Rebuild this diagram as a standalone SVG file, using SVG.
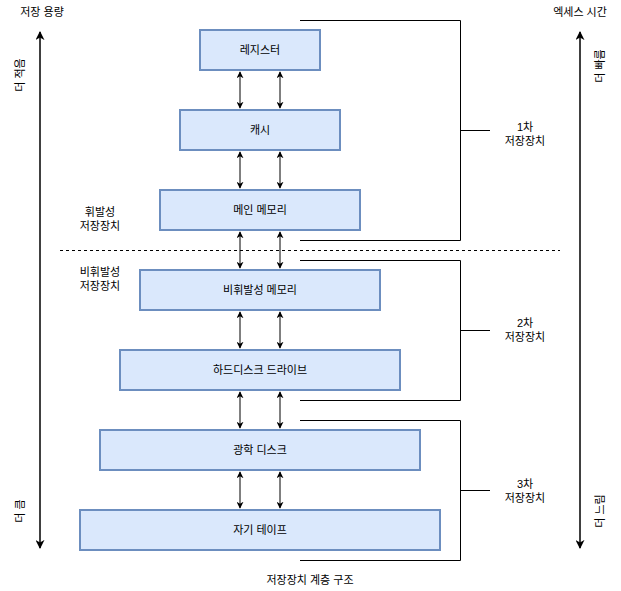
<svg xmlns="http://www.w3.org/2000/svg" width="621" height="591" viewBox="0 0 621 591">
  <style>
    .box { fill: #dae8fc; stroke: #6c8ebf; stroke-width: 2; }
    .lbl { font-family: "Liberation Sans", "Noto Sans CJK KR", sans-serif; font-size: 11px; fill: #000; text-anchor: middle; }
    .ln { stroke: #000; stroke-width: 1; fill: none; }
    .ax { stroke: #000; stroke-width: 1.5; fill: none; }
  </style>
  <defs>
    <marker id="ah" viewBox="0 0 10 10" refX="9" refY="5" markerWidth="7" markerHeight="7" orient="auto-start-reverse" markerUnits="userSpaceOnUse">
      <path d="M0,0 L10,5 L0,10 L3,5 Z" fill="#000"/>
    </marker>
    <marker id="ahb" viewBox="0 0 10 10" refX="9" refY="5" markerWidth="9" markerHeight="9" orient="auto-start-reverse" markerUnits="userSpaceOnUse">
      <path d="M0,0 L10,5 L0,10 L3,5 Z" fill="#000"/>
    </marker>
  </defs>

  <!-- storage levels -->
  <g id="register"><rect class="box" x="200" y="30" width="120" height="40"/><text class="lbl" x="260" y="54">레지스터</text></g>
  <g id="cache"><rect class="box" x="180" y="110" width="160" height="40"/><text class="lbl" x="260" y="134">캐시</text></g>
  <g id="main-memory"><rect class="box" x="160" y="190" width="200" height="40"/><text class="lbl" x="260" y="214">메인 메모리</text></g>
  <g id="nv-memory"><rect class="box" x="140" y="270" width="240" height="40"/><text class="lbl" x="260" y="294">비휘발성 메모리</text></g>
  <g id="hdd"><rect class="box" x="120" y="350" width="280" height="40"/><text class="lbl" x="260" y="374">하드디스크 드라이브</text></g>
  <g id="optical"><rect class="box" x="100" y="430" width="320" height="40"/><text class="lbl" x="260" y="454">광학 디스크</text></g>
  <g id="tape"><rect class="box" x="80" y="510" width="360" height="40"/><text class="lbl" x="260" y="534">자기 테이프</text></g>

  <!-- connectors -->
  <g id="connectors">
    <path class="ln" d="M240,72 V108" marker-start="url(#ah)" marker-end="url(#ah)"/>
    <path class="ln" d="M280,72 V108" marker-start="url(#ah)" marker-end="url(#ah)"/>
    <path class="ln" d="M240,152 V188" marker-start="url(#ah)" marker-end="url(#ah)"/>
    <path class="ln" d="M280,152 V188" marker-start="url(#ah)" marker-end="url(#ah)"/>
    <path class="ln" d="M240,232 V268" marker-start="url(#ah)" marker-end="url(#ah)"/>
    <path class="ln" d="M280,232 V268" marker-start="url(#ah)" marker-end="url(#ah)"/>
    <path class="ln" d="M240,312 V348" marker-start="url(#ah)" marker-end="url(#ah)"/>
    <path class="ln" d="M280,312 V348" marker-start="url(#ah)" marker-end="url(#ah)"/>
    <path class="ln" d="M240,392 V428" marker-start="url(#ah)" marker-end="url(#ah)"/>
    <path class="ln" d="M280,392 V428" marker-start="url(#ah)" marker-end="url(#ah)"/>
    <path class="ln" d="M240,472 V508" marker-start="url(#ah)" marker-end="url(#ah)"/>
    <path class="ln" d="M280,472 V508" marker-start="url(#ah)" marker-end="url(#ah)"/>

    <!-- volatile / non-volatile divider -->
    <path class="ln" d="M60,250.5 H560" stroke-dasharray="3,3"/>

    <!-- tier brackets -->
    <path class="ln" d="M300,20.5 H460.5 V240.5 H300 M460.5,130.5 H490"/>
    <path class="ln" d="M300,260.5 H460.5 V400.5 H300 M460.5,330.5 H490"/>
    <path class="ln" d="M300,420.5 H460.5 V560.5 H300 M460.5,490.5 H490"/>

    <!-- axes -->
    <path class="ax" d="M40,32 V548" marker-start="url(#ahb)" marker-end="url(#ahb)"/>
    <path class="ax" d="M580,32 V548" marker-start="url(#ahb)" marker-end="url(#ahb)"/>
  </g>

  <!-- tier labels -->
  <g id="tier1"><text class="lbl" x="525" y="131">1차</text><text class="lbl" x="525" y="145">저장장치</text></g>
  <g id="tier2"><text class="lbl" x="525" y="327">2차</text><text class="lbl" x="525" y="341">저장장치</text></g>
  <g id="tier3"><text class="lbl" x="525" y="488">3차</text><text class="lbl" x="525" y="502">저장장치</text></g>

  <g id="volatile"><text class="lbl" x="100" y="216">휘발성</text><text class="lbl" x="100" y="230">저장장치</text></g>
  <g id="nonvolatile"><text class="lbl" x="100" y="276">비휘발성</text><text class="lbl" x="100" y="290">저장장치</text></g>

  <!-- axis labels -->
  <g id="axis-labels">
    <text class="lbl" x="42" y="16">저장 용량</text>
    <text class="lbl" x="580" y="16">엑세스 시간</text>
    <text class="lbl" transform="translate(24,75) rotate(-90)">더 적음</text>
    <text class="lbl" transform="translate(24,511) rotate(-90)">더 큼</text>
    <text class="lbl" transform="translate(604,66) rotate(-90)">더 빠름</text>
    <text class="lbl" transform="translate(604,511) rotate(-90)">더 느림</text>
  </g>

  <g id="title"><text class="lbl" x="310" y="584">저장장치 계층 구조</text></g>
</svg>
